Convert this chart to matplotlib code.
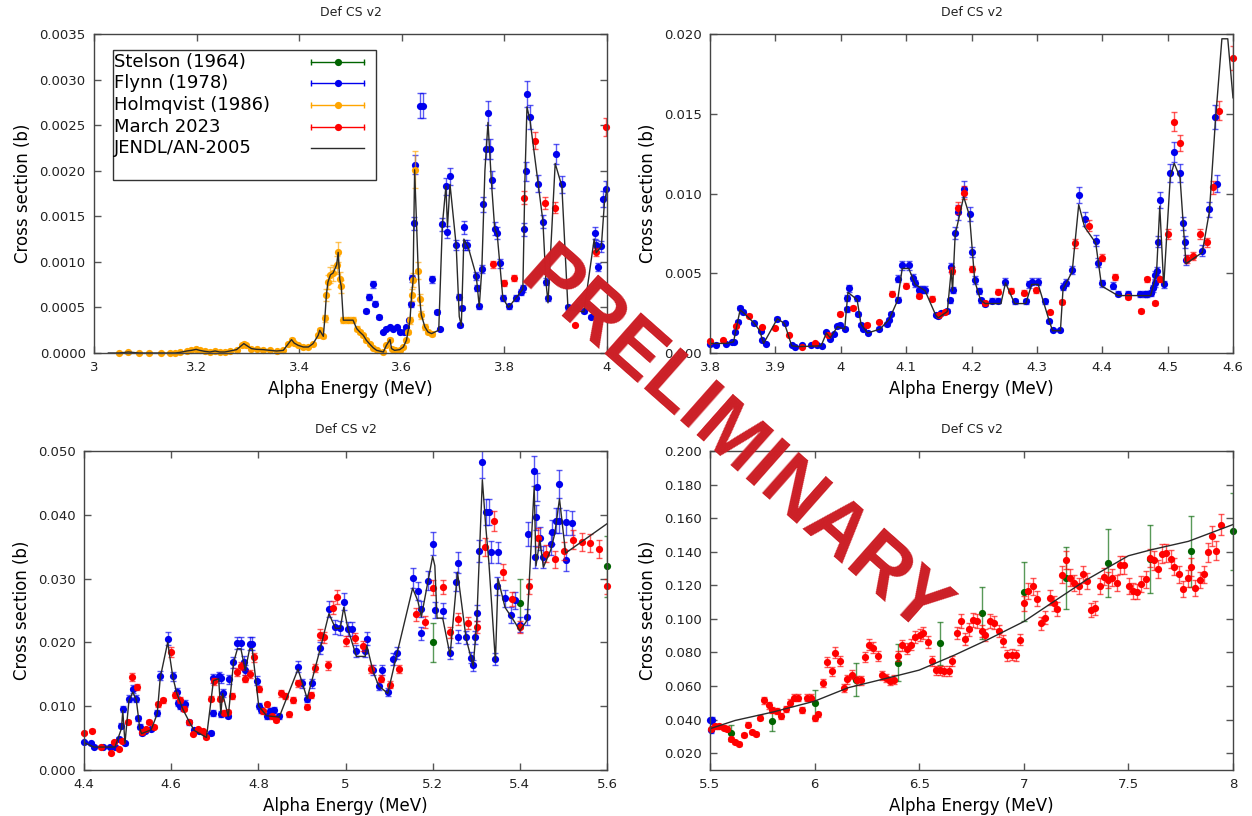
import numpy as np
import matplotlib
matplotlib.use('Agg')
import matplotlib.pyplot as plt
from matplotlib.patches import Rectangle
from matplotlib.ticker import FuncFormatter, MultipleLocator

# ---------------- data ----------------
# panel 1 : 3.0 - 4.0 MeV  (cross sections in 1e-4 b)
holm1_x = [3.049,3.067,3.088,3.108,3.130,3.148,3.158,3.168,3.181,3.190,
           3.199,3.206,3.216,3.226,3.236,3.245,3.255,3.265,3.278,3.288,
           3.292,3.297,3.307,3.317,3.330,3.343,3.356,3.369,3.379,3.385,
           3.390,3.398,3.408,3.418,3.427,3.437,3.440,3.447,3.450,3.453,
           3.456,3.461,3.466,3.473,3.476,3.479,3.482,3.486,3.495,3.505,
           3.512,3.518,3.525,3.531,3.538,3.544,3.551,3.564,3.570,3.577,
           3.580,3.586,3.596,3.603,3.609,3.612,3.616,3.619,3.622,3.625,
           3.632,3.635,3.638,3.645,3.651,3.658]
holm1_y = [0,0.11,0,0,0,0,0,0.07,0.22,0.29,
           0.40,0.29,0.18,0.11,0.22,0.11,0.11,0.22,0.37,0.84,
           1.03,0.84,0.48,0.40,0.37,0.29,0.22,0.29,1.03,1.47,
           1.10,0.84,0.66,0.66,1.03,1.94,2.49,1.83,3.81,6.38,
           7.78,8.58,8.77,9.68,11.04,8.10,7.30,3.60,3.60,3.60,
           2.68,2.31,1.94,1.39,0.95,0.59,0.29,0.11,0.84,1.47,
           0.48,0.29,0.37,0.66,1.39,2.31,3.59,6.34,8.00,20.10,
           9.03,5.90,4.18,2.86,2.31,2.13]
flynn1_x = [3.531,3.536,3.544,3.548,3.555,3.564,3.570,3.577,3.583,3.590,
            3.597,3.604,3.609,3.614,3.617,3.619,3.623,3.626,3.635,3.642,
            3.658,3.668,3.675,3.679,3.686,3.688,3.694,3.706,3.712,3.714,
            3.717,3.721,3.723,3.727,3.744,3.747,3.751,3.756,3.758,3.764,
            3.768,3.771,3.775,3.781,3.786,3.791,3.797,3.808,3.823,3.833,
            3.836,3.838,3.842,3.844,3.849,3.866,3.875,3.881,3.885,3.901,
            3.912,3.924,3.940,3.956,3.969,3.976,3.979,3.982,3.989,3.992,3.999]
flynn1_y = [4.62,6.16,7.56,5.43,3.96,2.31,2.68,2.86,2.68,2.86,
            2.31,2.31,2.86,3.59,5.35,8.18,14.23,20.65,27.14,27.14,
            8.07,4.51,2.60,14.12,18.27,13.32,19.37,11.85,6.16,3.04,
            4.95,13.79,11.85,11.85,8.47,7.12,5.13,9.24,16.32,22.37,
            26.33,22.37,19.0,13.65,13.13,9.83,6.05,5.13,6.05,6.71,
            7.08,13.57,19.92,28.46,25.89,18.56,14.42,7.81,5.98,21.83,
            18.53,5.0,5.0,4.6,4.0,13.17,11.8,9.43,11.7,16.91,18.0]
march1_x = [3.778,3.799,3.818,3.838,3.859,3.879,3.898,3.937,3.979,3.999]
march1_y = [9.72,7.70,8.18,17.06,23.29,16.51,15.96,3.10,11.11,24.76]
jendl1_x_tail = [3.672,3.679,3.686,3.689,3.694,3.706,3.712,3.716,3.721,3.730,
                 3.745,3.751,3.756,3.762,3.768,3.775,3.781,3.786,3.797,3.808,
                 3.836,3.840,3.844,3.850,3.866,3.875,3.881,3.885,3.899,3.912,
                 3.924,3.955,3.975,3.979,3.989,3.995,4.000]
jendl1_y_tail = [2.5,14.0,18.3,13.8,18.5,11.8,4.0,3.0,12.5,11.5,
                 8.5,5.1,9.2,20.0,25.3,18.5,13.7,13.0,6.0,5.0,
                 7.0,19.0,27.0,25.5,18.5,14.5,7.8,5.5,20.8,18.3,
                 4.8,4.5,12.5,11.0,11.7,16.5,18.0]

# panel 2 : 3.8 - 4.6 MeV  (1e-3 b)
flynn2_x = [3.800,3.809,3.824,3.833,3.837,3.839,3.843,3.846,3.851,3.868,
            3.878,3.880,3.886,3.903,3.914,3.925,3.930,3.940,3.954,3.963,
            3.971,3.978,3.984,3.989,3.995,3.999,4.006,4.009,4.010,4.013,
            4.025,4.027,4.031,4.034,4.041,4.059,4.070,4.074,4.077,4.087,
            4.088,4.094,4.104,4.111,4.114,4.120,4.124,4.129,4.145,4.149,
            4.153,4.163,4.167,4.169,4.171,4.175,4.180,4.188,4.197,4.200,
            4.205,4.211,4.214,4.221,4.231,4.241,4.252,4.266,4.283,4.288,
            4.292,4.302,4.312,4.319,4.324,4.336,4.340,4.344,4.354,4.364,
            4.373,4.390,4.394,4.399,4.416,4.424,4.439,4.458,4.465,4.469,
            4.474,4.477,4.480,4.481,4.483,4.485,4.488,4.494,4.504,4.510,
            4.519,4.523,4.526,4.528,4.553,4.564,4.573,4.575]
flynn2_y = [0.59,0.52,0.59,0.69,0.69,1.32,1.95,2.83,2.58,1.85,
            1.38,0.80,0.59,2.16,1.85,0.48,0.38,0.48,0.48,0.48,
            0.42,1.32,0.90,1.17,1.68,1.78,1.53,2.73,3.46,4.05,
            3.42,2.43,1.78,1.53,1.26,1.53,1.80,2.10,2.47,3.35,
            4.67,5.49,5.49,4.72,4.36,3.98,3.98,3.98,2.41,2.31,
            2.52,2.64,3.31,5.37,3.94,7.51,8.81,10.3,8.72,6.35,
            4.57,3.90,3.31,3.10,3.27,3.27,4.47,3.25,3.25,4.30,
            4.47,4.47,3.23,2.00,1.43,1.43,4.15,4.40,5.20,9.90,
            8.40,7.05,5.66,4.36,4.22,3.73,3.69,3.69,3.69,3.69,
            3.77,4.05,4.89,4.36,5.16,6.98,9.60,4.30,11.3,12.6,
            11.3,8.14,6.96,5.83,6.42,9.00,14.8,10.6]
march2_x = [3.800,3.820,3.840,3.860,3.880,3.899,3.921,3.941,3.960,3.980,
            3.999,4.019,4.040,4.059,4.079,4.100,4.119,4.139,4.150,4.160,
            4.170,4.179,4.189,4.200,4.220,4.240,4.260,4.280,4.299,4.320,
            4.339,4.359,4.380,4.399,4.419,4.439,4.459,4.469,4.480,4.489,
            4.500,4.510,4.519,4.529,4.539,4.550,4.560,4.569,4.579,4.600]
march2_y = [0.75,0.80,1.70,2.33,1.64,1.59,1.11,0.38,0.65,1.11,
            2.47,2.85,1.78,1.95,3.73,4.23,3.58,3.41,2.41,2.58,
            5.16,9.08,10.06,5.27,3.16,3.83,3.90,3.77,3.94,2.54,
            3.21,6.88,7.99,5.98,4.78,3.52,2.64,4.61,3.14,4.61,
            7.46,14.5,13.16,5.89,6.10,7.46,6.94,10.38,15.2,18.5]
jendl2_x = [3.800,3.825,3.836,3.846,3.852,3.868,3.876,3.882,3.903,3.914,
            3.925,3.935,3.970,3.978,3.984,3.995,4.006,4.011,4.025,4.031,
            4.041,4.060,4.074,4.087,4.094,4.104,4.114,4.129,4.145,4.149,
            4.163,4.169,4.171,4.175,4.188,4.197,4.205,4.214,4.221,4.245,
            4.252,4.266,4.283,4.292,4.302,4.319,4.324,4.336,4.340,4.354,
            4.364,4.373,4.390,4.399,4.424,4.474,4.483,4.488,4.494,4.504,
            4.510,4.519,4.528,4.553,4.564,4.573,4.583,4.592,4.600]
jendl2_y = [0.6,0.6,0.7,2.7,2.5,1.85,1.4,0.6,2.15,1.85,
            0.45,0.4,0.45,1.25,0.95,1.65,1.5,3.8,3.35,1.8,
            1.25,1.5,2.1,3.3,5.3,5.3,4.3,3.9,2.4,2.2,
            2.6,5.2,3.9,7.4,9.8,8.6,4.5,3.3,3.1,3.1,
            4.4,3.1,3.1,4.3,4.3,2.0,1.4,1.4,4.0,5.1,
            9.3,7.9,6.9,4.2,3.6,3.6,5.0,9.2,4.2,11.0,
            11.9,11.0,5.6,6.3,8.9,14.5,19.7,19.7,16.0]

# panel 3 : 4.4 - 5.6 MeV  (1e-3 b)
flynn3_x = [4.400,4.416,4.423,4.443,4.459,4.471,4.481,4.486,4.489,4.494,
            4.503,4.512,4.520,4.524,4.528,4.532,4.540,4.554,4.568,4.575,
            4.592,4.604,4.613,4.615,4.621,4.627,4.631,4.642,4.653,4.663,
            4.681,4.691,4.695,4.697,4.709,4.714,4.715,4.718,4.731,4.733,
            4.743,4.752,4.760,4.766,4.770,4.780,4.786,4.796,4.801,4.806,
            4.819,4.827,4.836,4.848,4.891,4.901,4.912,4.924,4.942,4.962,
            4.977,4.988,4.996,5.006,5.015,5.025,5.045,5.049,5.063,5.076,
            5.084,5.097,5.110,5.118,5.154,5.166,5.173,5.174,5.190,5.200,
            5.205,5.223,5.240,5.253,5.257,5.259,5.277,5.287,5.293,5.297,
            5.301,5.307,5.314,5.322,5.329,5.333,5.344,5.348,5.350,5.366,
            5.380,5.390,5.400,5.417,5.418,5.433,5.434,5.437,5.439,5.446,
            5.454,5.471,5.473,5.483,5.489,5.491,5.505,5.507,5.520]
flynn3_y = [4.35,4.19,3.66,3.66,3.66,3.66,4.86,6.96,9.58,4.19,
            11.15,12.72,11.15,8.12,6.81,5.76,6.07,6.44,8.9,14.8,
            20.6,14.66,12.2,10.5,10.1,9.7,10.4,7.5,6.2,6.07,
            5.4,5.76,8.9,14.4,14.66,8.8,14.4,12.1,8.5,14.2,
            16.9,19.9,19.9,17.0,15.7,19.8,19.8,14.0,10.0,9.4,
            8.4,9.2,9.4,8.4,16.2,13.6,11.2,13.6,19.1,25.2,
            22.4,22.3,26.4,22.1,22.1,18.7,18.7,20.6,15.7,13.2,
            15.6,12.2,17.4,18.3,30.1,28.1,21.4,25.3,29.7,35.5,
            25.1,25.0,18.3,29.5,32.5,20.9,20.8,17.6,16.4,20.8,
            24.6,34.4,48.2,40.5,40.5,34.2,17.4,28.8,34.1,26.9,
            24.3,26.6,22.8,24.0,37.0,46.9,33.4,39.6,44.3,36.3,
            33.4,35.4,37.3,39.1,39.1,44.8,32.9,38.8,38.7]
march3_x = [4.400,4.419,4.440,4.461,4.469,4.481,4.487,4.500,4.510,4.521,
            4.534,4.542,4.550,4.560,4.570,4.581,4.600,4.609,4.620,4.629,
            4.641,4.650,4.662,4.672,4.681,4.691,4.699,4.712,4.722,4.730,
            4.740,4.752,4.760,4.770,4.780,4.790,4.801,4.811,4.821,4.831,
            4.841,4.851,4.861,4.871,4.879,4.891,4.912,4.920,4.930,4.941,
            4.950,4.960,4.971,4.980,5.000,5.021,5.041,5.059,5.081,5.101,
            5.122,5.162,5.182,5.200,5.223,5.240,5.259,5.281,5.301,5.321,
            5.341,5.362,5.382,5.400,5.421,5.441,5.461,5.481,5.501,5.522,
            5.542,5.562,5.582,5.600]
march3_y = [5.86,6.18,3.66,2.62,4.35,3.30,4.6,7.5,14.6,13.0,
            5.95,6.4,7.5,6.8,10.3,10.9,18.5,11.7,11.0,9.6,
            7.5,5.65,6.4,6.1,5.1,11.2,13.9,11.2,9.0,9.1,
            11.6,15.4,16.3,14.3,15.1,17.7,12.7,9.2,10.3,8.4,
            7.9,12.0,11.6,8.7,11.0,13.6,9.9,11.8,16.0,21.2,
            20.8,16.4,25.4,27.1,20.2,20.7,19.4,15.9,14.3,13.4,
            15.8,24.4,23.2,28.6,28.7,21.6,23.6,23.0,22.4,34.9,
            39.1,31.1,26.8,22.4,28.8,36.4,33.9,33.0,34.3,36.1,
            35.7,35.6,34.6,28.8]
stelson3_x = [5.2, 5.4, 5.6]
stelson3_y = [20.0, 26.1, 31.9]
jendl3_x = [4.400,4.423,4.471,4.486,4.489,4.494,4.503,4.512,4.520,4.528,
            4.532,4.554,4.568,4.575,4.592,4.604,4.613,4.627,4.642,4.653,
            4.681,4.697,4.709,4.714,4.718,4.731,4.743,4.752,4.760,4.770,
            4.780,4.786,4.801,4.819,4.848,4.891,4.912,4.942,4.962,4.977,
            4.988,4.996,5.006,5.025,5.045,5.049,5.063,5.076,5.097,5.118,
            5.154,5.166,5.174,5.200,5.205,5.210,5.223,5.240,5.257,5.277,
            5.293,5.301,5.314,5.322,5.329,5.344,5.350,5.366,5.390,5.400,
            5.417,5.433,5.437,5.446,5.454,5.471,5.480,5.491,5.505,5.600]
jendl3_y = [4.3,3.6,3.6,6.5,9.3,4.2,10.8,12.2,11.0,6.5,
            5.7,6.3,8.8,14.5,20.0,14.5,12.0,9.5,7.5,6.2,
            5.1,14.0,14.3,8.8,12.0,8.4,16.8,19.0,19.0,15.6,
            19.0,19.0,10.0,8.5,8.3,15.8,11.2,19.0,24.5,22.2,
            22.2,25.5,22.0,17.8,17.8,19.5,15.5,13.2,12.0,18.2,
            28.5,26.5,24.0,33.5,32.0,23.8,23.8,18.0,31.0,20.5,
            16.3,23.0,45.5,38.0,32.5,17.0,30.0,25.5,23.0,21.8,
            23.5,44.5,32.0,36.0,31.8,34.5,37.0,42.5,34.0,38.6]

# panel 4 : 5.5 - 8.0 MeV  (1e-3 b)
march4_x = [5.504,5.522,5.545,5.567,5.581,5.599,5.621,5.639,5.661,5.681,
            5.702,5.720,5.738,5.760,5.780,5.798,5.820,5.841,5.861,5.883,
            5.901,5.919,5.940,5.964,5.982,6.000,6.018,6.040,6.060,6.081,
            6.099,6.121,6.139,6.157,6.181,6.202,6.222,6.240,6.262,6.280,
            6.301,6.321,6.339,6.361,6.379,6.397,6.419,6.440,6.460,6.482,
            6.502,6.520,6.542,6.560,6.578,6.599,6.617,6.641,6.659,6.681,
            6.699,6.718,6.740,6.758,6.778,6.798,6.816,6.839,6.859,6.881,
            6.899,6.921,6.942,6.962,6.980,7.002,7.020,7.043,7.061,7.083,
            7.101,7.123,7.143,7.161,7.182,7.200,7.222,7.242,7.264,7.282,
            7.300,7.323,7.341,7.363,7.381,7.403,7.421,7.444,7.462,7.480,
            7.502,7.522,7.542,7.561,7.583,7.601,7.621,7.643,7.661,7.682,
            7.702,7.720,7.742,7.762,7.783,7.801,7.819,7.841,7.859,7.881,
            7.901,7.919,7.942]
march4_y = [34.6,36.0,36.0,35.2,34.6,28.6,26.6,25.6,31.0,37.0,
            32.6,31.6,41.2,51.5,48.5,45.9,45.1,42.0,46.5,50.1,
            53.1,53.1,45.5,53.1,53.1,40.9,43.1,62.0,74.4,68.8,
            79.8,74.8,58.8,64.0,66.8,63.4,63.4,77.4,84.7,82.9,
            77.8,66.4,64.8,63.0,63.8,77.8,84.3,82.3,84.7,89.3,
            90.3,91.7,86.3,75.0,69.4,69.4,69.0,69.0,75.0,91.7,
            98.7,87.9,93.7,99.3,98.7,92.7,90.3,98.7,97.7,92.7,
            86.7,78.3,78.7,78.3,87.7,109.3,116.7,119.3,111.9,97.3,
            100.7,112.7,109.3,105.7,126.2,135.2,124.6,121.2,119.8,126.6,
            122.6,105.3,106.3,119.8,125.2,123.2,124.6,121.2,132.2,132.0,
            119.6,116.8,116.2,120.8,123.6,136.2,134.8,129.6,138.8,139.2,
            135.6,131.2,126.6,117.6,124.2,130.8,118.2,123.2,126.6,139.6,
            149.2,140.6,156.1]
stelson4_x = [5.599,5.798,6.000,6.199,6.397,6.599,6.798,7.000,7.200,7.403,7.601,7.801,8.000]
stelson4_y = [32.0,38.9,49.9,63.9,73.8,85.4,103.3,116.3,124.3,133.3,135.7,140.2,152.2]
flynn4_x = [5.502, 5.508, 5.503]
flynn4_y = [39.5, 39.5, 34.0]
jendl4_x = [5.5,5.62,5.80,6.0,6.16,6.34,6.5,6.668,6.83,7.0,7.155,7.30,7.5,7.61,7.787,8.0]
jendl4_y = [34.6,39.5,44.5,51.0,59.0,64.5,69.5,78.4,87.8,98.4,111.3,123.3,137.6,141.2,146.2,156.2]

# relative uncertainties of each data set (as seen from the bar lengths)
rel_err = {'Stelson': 0.15, 'Flynn': 0.05, 'Holmqvist': 0.10, 'March': 0.04}
colors = {'Stelson': '#006400', 'Flynn': '#0000ee', 'Holmqvist': '#ffa500',
          'March': '#ff0000', 'JENDL': '#2a2a2a'}
labels = ['Stelson (1964)', 'Flynn (1978)', 'Holmqvist (1986)', 'March 2023', 'JENDL/AN-2005']

# ---------------- plotting ----------------
plt.rcParams['font.family'] = ['DejaVu Sans']

fig = plt.figure(figsize=(12.52, 8.16), dpi=100)
W, H = 1252., 816.
def box(l, r, t, b):
    return [l / W, 1 - b / H, (r - l) / W, (b - t) / H]

ax1 = fig.add_axes(box(94, 607, 34, 353))
ax2 = fig.add_axes(box(710, 1233, 34, 353))
ax3 = fig.add_axes(box(84, 607, 451, 770))
ax4 = fig.add_axes(box(710, 1233, 451, 770))


def pts(ax, x, y, name, scale):
    x = np.array(x)
    y = np.array(y) * scale
    c = colors[name]
    ax.errorbar(x, y, yerr=rel_err[name] * y, fmt='none', ecolor=c, elinewidth=1,
                capsize=2.5, capthick=1, alpha=0.65)
    ax.plot(x, y, 'o', color=c, ms=5.2, mew=0, clip_on=False)


def jendl(ax, x, y, scale):
    ax.plot(np.array(x), np.array(y) * scale, '-', color=colors['JENDL'], lw=1)


def xfmt(v, p):
    s = '%.2f' % v
    return s.rstrip('0').rstrip('.')


def style(ax, xlim, xstep, ylim, ystep, yfmt):
    ax.set_xlim(*xlim)
    ax.set_ylim(*ylim)
    ax.xaxis.set_major_locator(MultipleLocator(xstep))
    ax.yaxis.set_major_locator(MultipleLocator(ystep))
    ax.xaxis.set_major_formatter(FuncFormatter(xfmt))
    ax.yaxis.set_major_formatter(FuncFormatter(lambda v, p: yfmt % v))
    ax.tick_params(direction='in', top=True, right=True, length=5, width=1,
                   color='#555555', labelsize=9.5, pad=6, labelcolor='#222222')
    for s in ax.spines.values():
        s.set_color('#444444')
        s.set_linewidth(1)
    ax.set_title('Def CS v2', fontsize=9, pad=13, color='#222222')
    ax.set_xlabel('Alpha Energy (MeV)', fontsize=12, labelpad=4)
    ax.set_ylabel('Cross section (b)', fontsize=12, labelpad=5)


# panel 1
pts(ax1, flynn1_x, flynn1_y, 'Flynn', 1e-4)
pts(ax1, holm1_x, holm1_y, 'Holmqvist', 1e-4)
pts(ax1, march1_x, march1_y, 'March', 1e-4)
jendl(ax1, [3.028] + holm1_x + jendl1_x_tail, [0] + holm1_y + jendl1_y_tail, 1e-4)
style(ax1, (3, 4), 0.2, (0, 0.0035), 0.0005, '%.4f')

# panel 2
pts(ax2, flynn2_x, flynn2_y, 'Flynn', 1e-3)
pts(ax2, march2_x, march2_y, 'March', 1e-3)
jendl(ax2, jendl2_x, jendl2_y, 1e-3)
style(ax2, (3.8, 4.6), 0.1, (0, 0.020), 0.005, '%.3f')

# panel 3
pts(ax3, stelson3_x, stelson3_y, 'Stelson', 1e-3)
pts(ax3, flynn3_x, flynn3_y, 'Flynn', 1e-3)
pts(ax3, march3_x, march3_y, 'March', 1e-3)
jendl(ax3, jendl3_x, jendl3_y, 1e-3)
style(ax3, (4.4, 5.6), 0.2, (0, 0.050), 0.01, '%.3f')

# panel 4
pts(ax4, stelson4_x, stelson4_y, 'Stelson', 1e-3)
pts(ax4, flynn4_x, flynn4_y, 'Flynn', 1e-3)
pts(ax4, march4_x, march4_y, 'March', 1e-3)
jendl(ax4, jendl4_x, jendl4_y, 1e-3)
style(ax4, (5.5, 8.0), 0.5, (0.01, 0.200), 0.02, '%.3f')

# legend, gnuplot style: text left, key on the right
ax1.add_patch(Rectangle((0.037, 0.542), 0.513, 0.408, transform=ax1.transAxes,
                        fill=True, facecolor='white', edgecolor='#333333', lw=1, zorder=5))
rows = [0.911, 0.845, 0.777, 0.709, 0.642]
keys = ['Stelson', 'Flynn', 'Holmqvist', 'March', 'JENDL']
kx0, kx1 = 0.423, 0.527
for lab, key, yy in zip(labels, keys, rows):
    ax1.text(0.039, yy, lab, transform=ax1.transAxes, fontsize=13, va='center',
             ha='left', zorder=6)
    c = colors[key]
    ax1.plot([kx0, kx1], [yy, yy], color=c, lw=1, transform=ax1.transAxes, zorder=6)
    if key != 'JENDL':
        ax1.plot([kx0, kx1], [yy, yy], ls='none', marker='|', ms=5, mew=1, color=c,
                 transform=ax1.transAxes, zorder=6)
        ax1.plot([(kx0 + kx1) / 2], [yy], 'o', ms=5.2, mew=0, color=c,
                 transform=ax1.transAxes, zorder=6)

# watermark
fig.text(733 / W, 1 - 445 / H, 'PRELIMINARY', rotation=-41.5, fontsize=57,
         fontweight='bold', color='#cc1f26', family='Liberation Sans',
         ha='center', va='center', zorder=20)

fig.savefig('out.png', dpi=100)
